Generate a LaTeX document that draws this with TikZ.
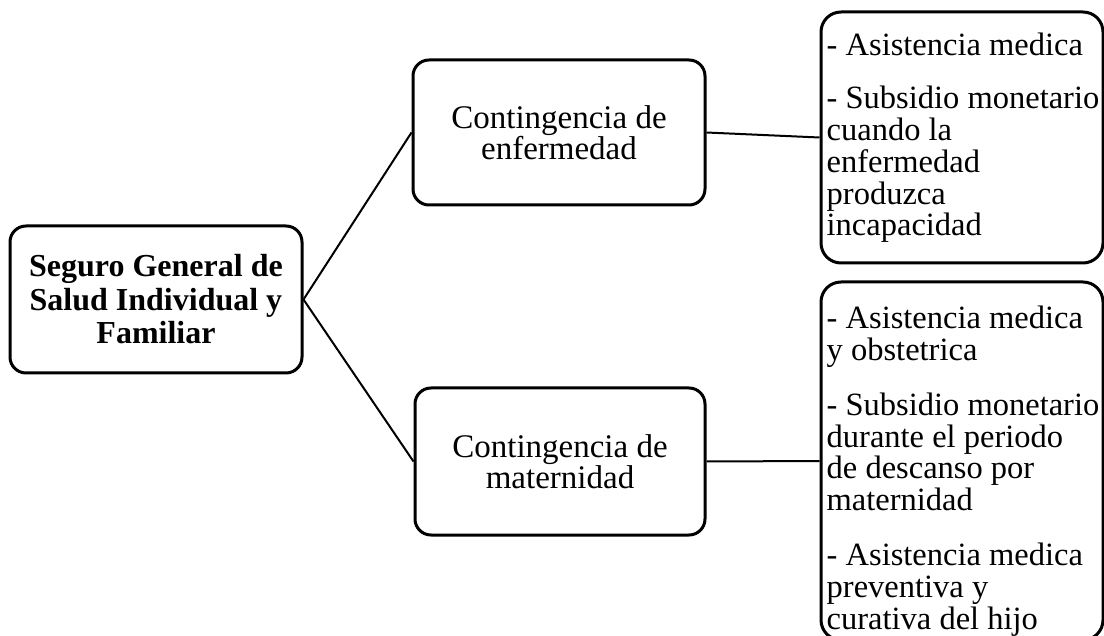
\documentclass[tikz,border=0pt]{standalone}
\usepackage{fontspec}
\setmainfont{Liberation Serif}
\begin{document}
\begin{tikzpicture}[x=1pt,y=-1pt,
  box/.style={draw=black,line width=3pt,rounded corners=16pt,fill=white,inner sep=0pt,align=center,font=\fontsize{33}{31}\selectfont},
  listbox/.style={draw=black,line width=3pt,rounded corners=20pt,fill=white,inner sep=0pt},
  listtext/.style={font=\fontsize{32.5}{31.8}\selectfont,align=left,anchor=west,inner sep=0pt},
  link/.style={draw=black,line width=2pt}]
\useasboundingbox (0,0) rectangle (1104,636);
\node[box,minimum width=292pt,minimum height=147pt,font=\fontsize{32}{33.5}\selectfont\bfseries] (root) at (156,299.5) {Seguro General de\\Salud Individual y\\Familiar};
\node[box,minimum width=292pt,minimum height=145pt] (enf) at (559,132.5) {Contingencia de\\enfermedad};
\node[box,minimum width=290pt,minimum height=147pt] (mat) at (560,461.5) {Contingencia de\\maternidad};
\node[listbox,minimum width=282pt,minimum height=251pt] (r1) at (962,137.5) {};
\node[listbox,minimum width=282pt,minimum height=358pt] (r2) at (962,461) {};
\node[listtext] (t1) at (826.5,138) {- Asistencia medica\\[21pt]- Subsidio monetario\\cuando la\\enfermedad\\produzca\\incapacidad};
\node[listtext] (t2) at (826.5,471) {- Asistencia medica\\y obstetrica\\[23pt]- Subsidio monetario\\durante el periodo\\de descanso por\\maternidad\\[23pt]- Asistencia medica\\preventiva y\\curativa del hijo};
\draw[link] (root.east) -- (enf.west);
\draw[link] (root.east) -- (mat.west);
\draw[link] (enf.east) -- (r1.west);
\draw[link] (mat.east) -- (r2.west);
\end{tikzpicture}
\end{document}
